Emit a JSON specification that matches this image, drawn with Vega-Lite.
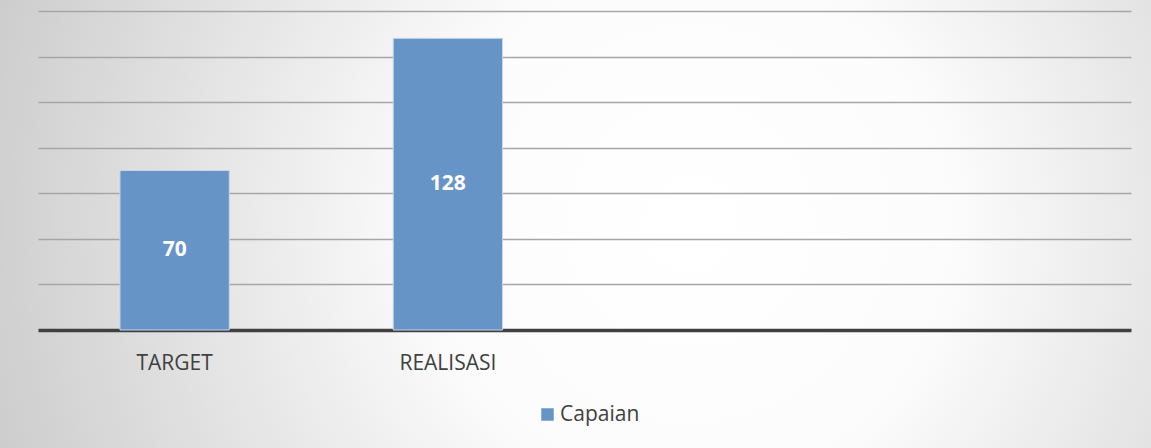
{
  "$schema": "https://vega.github.io/schema/vega-lite/v6.json",
  "width": 1151,
  "height": 448,
  "autosize": "none",
  "padding": 0,
  "background": "#d6d6d6",
  "config": {
    "font": "Open Sans",
    "view": {
      "stroke": null,
      "fill": {
        "gradient": "radial",
        "x1": 0.6, "y1": 0.5, "r1": 0,
        "x2": 0.6, "y2": 0.5, "r2": 0.75,
        "stops": [
          {"offset": 0, "color": "#ffffff"},
          {"offset": 0.3, "color": "#fcfcfc"},
          {"offset": 1, "color": "#bfbfbf"}
        ]
      }
    }
  },
  "data": {
    "values": [
      {"kategori": "TARGET", "nilai": 70, "seri": "Capaian"},
      {"kategori": "REALISASI", "nilai": 128, "seri": "Capaian"}
    ]
  },
  "encoding": {
    "x": {
      "field": "kategori",
      "type": "nominal",
      "sort": null,
      "scale": {
        "domain": ["TARGET", "REALISASI", " ", "  "],
        "range": [38, 1131],
        "paddingInner": 0.6,
        "paddingOuter": 0.3
      },
      "axis": {
        "title": null,
        "offset": -118,
        "labelAngle": 0,
        "labelFontSize": 21,
        "labelColor": "#404040",
        "labelPadding": 22,
        "ticks": false,
        "grid": false,
        "domainColor": "#404040",
        "domainWidth": 3.5
      }
    }
  },
  "layer": [
    {
      "mark": {"type": "bar", "stroke": "#c6d6ec", "strokeWidth": 1},
      "encoding": {
        "y": {
          "field": "nilai",
          "type": "quantitative",
          "scale": {"domain": [0, 140], "range": [330, 11], "nice": false},
          "axis": {
            "title": null,
            "labels": false,
            "ticks": false,
            "domain": false,
            "values": [20, 40, 60, 80, 100, 120, 140],
            "gridColor": "#a6a6a6",
            "gridWidth": 1.5
          }
        },
        "color": {
          "field": "seri",
          "type": "nominal",
          "scale": {"range": ["#6794c7"]},
          "legend": {
            "title": null,
            "orient": "none",
            "legendX": 537,
            "legendY": 404,
            "symbolType": "square",
            "symbolSize": 156,
            "symbolStrokeWidth": 0,
            "labelFontSize": 21,
            "labelColor": "#404040",
            "labelOffset": 2,
            "padding": 0
          }
        }
      }
    },
    {
      "mark": {"type": "text", "color": "white", "fontWeight": "bold", "fontSize": 21, "baseline": "middle"},
      "encoding": {
        "y": {
          "field": "nilai",
          "type": "quantitative",
          "scale": {"domain": [0, 280], "range": [330, 11], "nice": false},
          "axis": null
        },
        "text": {"field": "nilai", "type": "quantitative"}
      }
    }
  ],
  "resolve": {"scale": {"y": "independent"}}
}
